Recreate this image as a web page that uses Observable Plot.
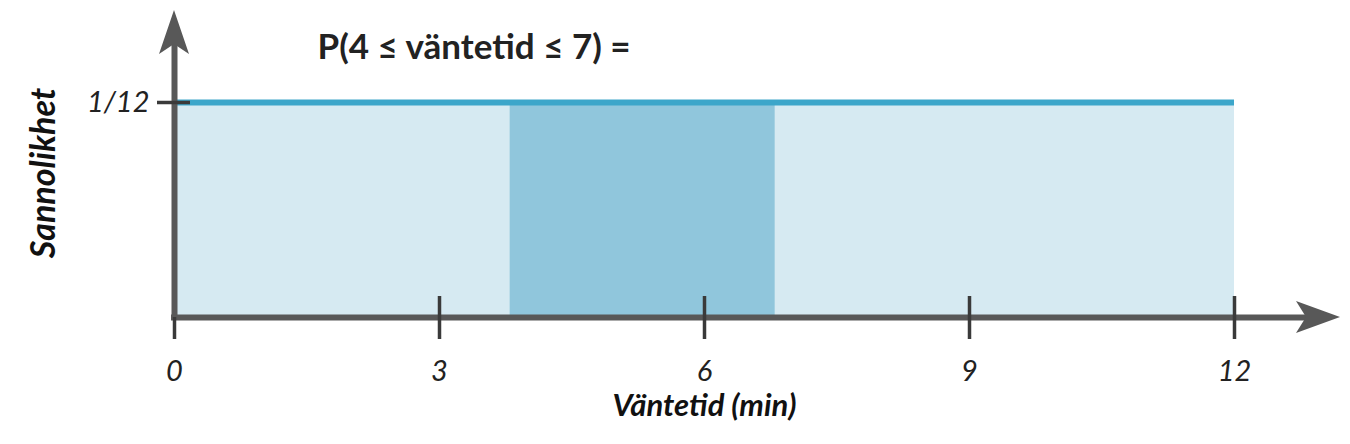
<!DOCTYPE html>
<html>
<head>
<meta charset="utf-8">
<script src="https://cdn.jsdelivr.net/npm/d3@7"></script>
<script src="https://cdn.jsdelivr.net/npm/@observablehq/plot@0.6"></script>
<style>
  html, body { margin: 0; padding: 0; background: #fff; }
  #chart svg { display: block; }
</style>
</head>
<body>
<div id="chart"></div>
<script>
// ---- data ----
const xTicks = [0, 3, 6, 9, 12];
const xTickLabels = ["0", "3", "6", "9", "12"];
const yTicks = [1 / 12];
const yTickLabels = ["1/12"];
const uniform = [{start: 0, end: 12, density: 1 / 12}];
const highlight = [{start: 3.8, end: 6.8, density: 1 / 12}];
const xAxisEnd = 13.2;   // where the x-axis arrow ends
const yAxisEnd = 0.119;  // where the y-axis arrow ends
const title = "P(4 ≤ väntetid ≤ 7) =";
const xTitle = "Väntetid (min)";
const yTitle = "Sannolikhet";

const axisColor = "#585858";
const tickColor = "#3a3a3a";

function arrowHeads(index, scales, values, dimensions, context) {
  const {x, y} = scales;
  const g = d3.create("svg:g");
  const x0 = x(0), y0 = y(0), xe = x(xAxisEnd), ye = y(yAxisEnd);
  g.append("path")
    .attr("d", `M${x0},${ye} L${x0 + 15},${ye + 44} L${x0},${ye + 34} L${x0 - 15},${ye + 44} Z`)
    .attr("fill", axisColor);
  g.append("path")
    .attr("d", `M${xe},${y0} L${xe - 44},${y0 - 16} L${xe - 34},${y0} L${xe - 44},${y0 + 16} Z`)
    .attr("fill", axisColor);
  return g.node();
}

const chart = Plot.plot({
  width: 1350,
  height: 444,
  marginLeft: 174,
  marginRight: 10,
  marginTop: 10,
  marginBottom: 127,
  x: {domain: [0, xAxisEnd], axis: null},
  y: {domain: [0, yAxisEnd], axis: null},
  style: {fontFamily: "Lato, 'Open Sans', sans-serif", fontSize: "29px", color: "#222", background: "#fff"},
  marks: [
    Plot.rect(uniform, {x1: "start", x2: "end", y1: 0, y2: "density", fill: "#d6eaf2"}),
    Plot.rect(highlight, {x1: "start", x2: "end", y1: 0, y2: "density", fill: "#90c6dc"}),
    Plot.ruleY(uniform, {y: "density", x1: "start", x2: "end", stroke: "#3ca6ca", strokeWidth: 6}),
    // axis lines
    Plot.ruleX([0], {y1: yAxisEnd, y2: 0, insetTop: 22, insetBottom: -3, stroke: axisColor, strokeWidth: 6}),
    Plot.ruleY([0], {x1: 0, x2: xAxisEnd, insetRight: 22, insetLeft: -3, stroke: axisColor, strokeWidth: 6}),
    // tick marks
    Plot.ruleX(xTicks.filter(d => d > 0), {y1: 0, y2: 0, insetTop: -21, insetBottom: -22, stroke: tickColor, strokeWidth: 3.5}),
    Plot.ruleX([0], {y1: 0, y2: 0, insetTop: 0, insetBottom: -22, stroke: tickColor, strokeWidth: 3.5}),
    Plot.ruleY(yTicks, {x1: 0, x2: 0, insetLeft: -17, insetRight: -16, stroke: tickColor, strokeWidth: 3.5}),
    arrowHeads,
    // axes labels
    Plot.axisX({ticks: xTicks, tickFormat: (d) => xTickLabels[xTicks.indexOf(d)], tickSize: 0, tickPadding: 43,
      fontSize: 29, fontStyle: "italic", fill: "#222", label: null}),
    Plot.axisY({ticks: yTicks, tickFormat: (d) => yTickLabels[yTicks.indexOf(d)], tickSize: 0, tickPadding: 25,
      fontSize: 29, fontStyle: "italic", fill: "#222", label: null}),
    Plot.text([xTitle], {x: 6, y: 0, dy: 89, text: d => d, fontSize: 31, fontStyle: "italic", fontWeight: "bold", fill: "#111"}),
    Plot.text([yTitle], {frameAnchor: "left", textAnchor: "middle", dx: -130, dy: 9, rotate: -90, text: d => d, fontSize: 34, fontStyle: "italic", fontWeight: "bold", fill: "#111"}),
    Plot.text([title], {frameAnchor: "top-left", dx: 143, dy: 24, text: d => d, fontSize: 35, fontWeight: "bold", fill: "#222", textAnchor: "start", lineAnchor: "top"})
  ]
});
document.getElementById("chart").appendChild(chart);
</script>
</body>
</html>
